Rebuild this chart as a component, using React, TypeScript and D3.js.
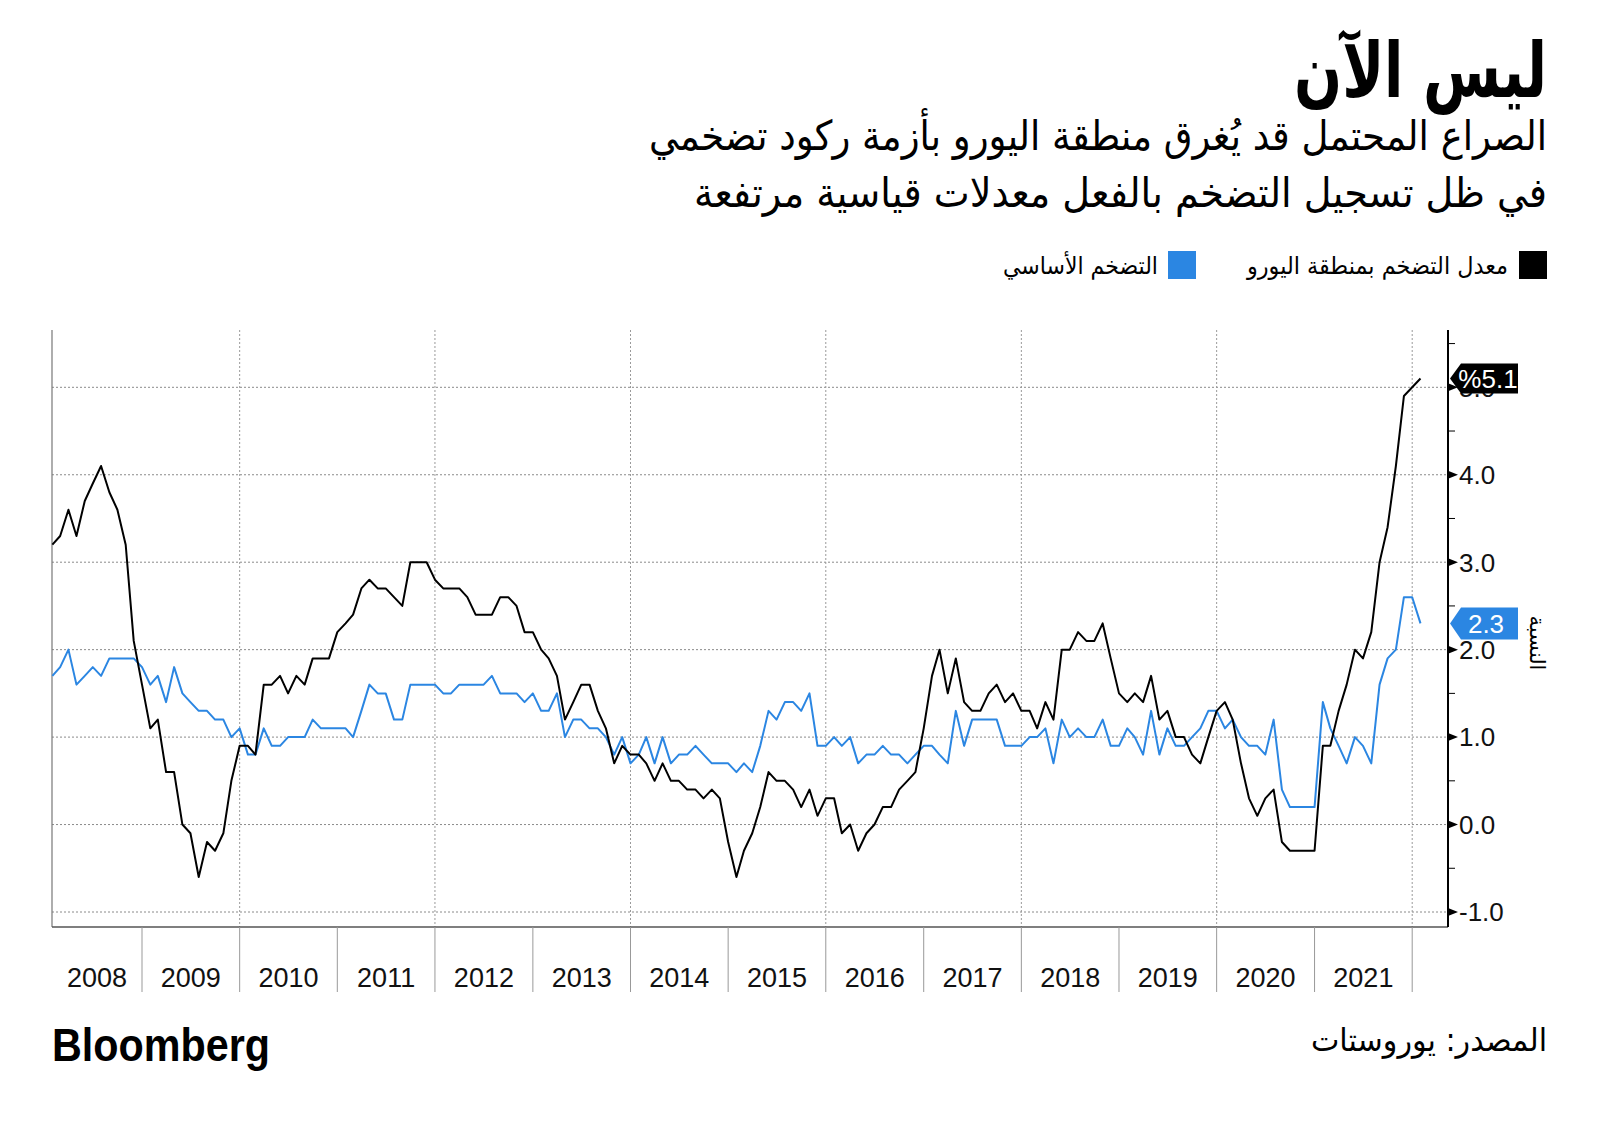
import React from "react";
import * as d3 from "d3";

// ---------- DATA ----------
const startYear = 2008;
// Euro-area headline inflation, monthly Jan 2008 .. Jan 2022 (%)
const headline: number[] = [
  3.2, 3.3, 3.6, 3.3, 3.7, 3.9, 4.1, 3.8, 3.6, 3.2, 2.1, 1.6,
  1.1, 1.2, 0.6, 0.6, 0.0, -0.1, -0.6, -0.2, -0.3, -0.1, 0.5, 0.9,
  0.9, 0.8, 1.6, 1.6, 1.7, 1.5, 1.7, 1.6, 1.9, 1.9, 1.9, 2.2,
  2.3, 2.4, 2.7, 2.8, 2.7, 2.7, 2.6, 2.5, 3.0, 3.0, 3.0, 2.8,
  2.7, 2.7, 2.7, 2.6, 2.4, 2.4, 2.4, 2.6, 2.6, 2.5, 2.2, 2.2,
  2.0, 1.9, 1.7, 1.2, 1.4, 1.6, 1.6, 1.3, 1.1, 0.7, 0.9, 0.8,
  0.8, 0.7, 0.5, 0.7, 0.5, 0.5, 0.4, 0.4, 0.3, 0.4, 0.3, -0.2,
  -0.6, -0.3, -0.1, 0.2, 0.6, 0.5, 0.5, 0.4, 0.2, 0.4, 0.1, 0.3,
  0.3, -0.1, 0.0, -0.3, -0.1, 0.0, 0.2, 0.2, 0.4, 0.5, 0.6, 1.1,
  1.7, 2.0, 1.5, 1.9, 1.4, 1.3, 1.3, 1.5, 1.6, 1.4, 1.5, 1.3,
  1.3, 1.1, 1.4, 1.2, 2.0, 2.0, 2.2, 2.1, 2.1, 2.3, 1.9, 1.5,
  1.4, 1.5, 1.4, 1.7, 1.2, 1.3, 1.0, 1.0, 0.8, 0.7, 1.0, 1.3,
  1.4, 1.2, 0.7, 0.3, 0.1, 0.3, 0.4, -0.2, -0.3, -0.3, -0.3, -0.3,
  0.9, 0.9, 1.3, 1.6, 2.0, 1.9, 2.2, 3.0, 3.4, 4.1, 4.9, 5.0,
  5.1,
];
// Core inflation, monthly Jan 2008 .. Jan 2022 (%)
const core: number[] = [
  1.7, 1.8, 2.0, 1.6, 1.7, 1.8, 1.7, 1.9, 1.9, 1.9, 1.9, 1.8,
  1.6, 1.7, 1.4, 1.8, 1.5, 1.4, 1.3, 1.3, 1.2, 1.2, 1.0, 1.1,
  0.8, 0.8, 1.1, 0.9, 0.9, 1.0, 1.0, 1.0, 1.2, 1.1, 1.1, 1.1,
  1.1, 1.0, 1.3, 1.6, 1.5, 1.5, 1.2, 1.2, 1.6, 1.6, 1.6, 1.6,
  1.5, 1.5, 1.6, 1.6, 1.6, 1.6, 1.7, 1.5, 1.5, 1.5, 1.4, 1.5,
  1.3, 1.3, 1.5, 1.0, 1.2, 1.2, 1.1, 1.1, 1.0, 0.8, 1.0, 0.7,
  0.8, 1.0, 0.7, 1.0, 0.7, 0.8, 0.8, 0.9, 0.8, 0.7, 0.7, 0.7,
  0.6, 0.7, 0.6, 0.9, 1.3, 1.2, 1.4, 1.4, 1.3, 1.5, 0.9, 0.9,
  1.0, 0.9, 1.0, 0.7, 0.8, 0.8, 0.9, 0.8, 0.8, 0.7, 0.8, 0.9,
  0.9, 0.8, 0.7, 1.3, 0.9, 1.2, 1.2, 1.2, 1.2, 0.9, 0.9, 0.9,
  1.0, 1.0, 1.1, 0.7, 1.2, 1.0, 1.1, 1.0, 1.0, 1.2, 0.9, 0.9,
  1.1, 1.0, 0.8, 1.3, 0.8, 1.1, 0.9, 0.9, 1.0, 1.1, 1.3, 1.3,
  1.1, 1.2, 1.0, 0.9, 0.9, 0.8, 1.2, 0.4, 0.2, 0.2, 0.2, 0.2,
  1.4, 1.1, 0.9, 0.7, 1.0, 0.9, 0.7, 1.6, 1.9, 2.0, 2.6, 2.6,
  2.3,
];
const yearLabels: number[] = [2008, 2009, 2010, 2011, 2012, 2013, 2014, 2015, 2016, 2017, 2018, 2019, 2020, 2021];
const yTicks: number[] = [-1, 0, 1, 2, 3, 4, 5];
const gridYears: number[] = [2010, 2012, 2014, 2016, 2018, 2020, 2022];

const title = "ليس الآن";
const subtitle1 = "الصراع المحتمل قد يُغرق منطقة اليورو بأزمة ركود تضخمي";
const subtitle2 = "في ظل تسجيل التضخم بالفعل معدلات قياسية مرتفعة";
const legendHeadline = "معدل التضخم بمنطقة اليورو";
const legendCore = "التضخم الأساسي";
const axisTitle = "النسبة";
const sourceText = "المصدر: يوروستات";

const BLUE = "#2b86e2";
const AR = "'DejaVu Sans', sans-serif";
const NUM = "'Liberation Sans', Arial, sans-serif";

export default function App() {
  const W = 1600, H = 1125;
  const plotL = 52, plotR = 1448, plotT = 330, plotB = 927;

  const monthDate = (i: number) => new Date(startYear, i + 1, 1); // plotted at month end
  const x = d3.scaleTime()
    .domain([new Date(2008, 0, 1), new Date(2022, 0, 1)])
    .range([44.1, 1412.2]);
  const y = d3.scaleLinear().domain([-1, 5]).range([912, 387.3]);

  const line = d3.line<number>()
    .x((_, i) => x(monthDate(i)))
    .y((d) => y(d));

  const minorTicks = d3.range(-1, 6, 0.5).filter((v) => Math.abs(v % 1) > 0.01);
  const lastH = headline[headline.length - 1];
  const lastC = core[core.length - 1];

  const tag = (v: number, h: number) => {
    const yy = y(v);
    return `M${plotR + 2},${yy} L${plotR + 13},${yy - h / 2} L${plotR + 70},${yy - h / 2} L${plotR + 70},${yy + h / 2} L${plotR + 13},${yy + h / 2} Z`;
  };

  return (
    <svg width={W} height={H} style={{ position: "absolute", left: 0, top: 0, background: "#fff" }}>
      <rect width={W} height={H} fill="#fff" />
      {/* Titles */}
      <text x={1547} y={97} textAnchor="end" fontFamily={AR} fontWeight="bold" fontSize={76} textLength={253} lengthAdjust="spacingAndGlyphs">{title}</text>
      <text x={1547} y={150} textAnchor="end" fontFamily={AR} fontSize={41} textLength={898} lengthAdjust="spacingAndGlyphs">{subtitle1}</text>
      <text x={1547} y={207} textAnchor="end" fontFamily={AR} fontSize={41} textLength={853} lengthAdjust="spacingAndGlyphs">{subtitle2}</text>

      {/* Legend */}
      <rect x={1519} y={251} width={28} height={28} fill="#000" />
      <text x={1508} y={274} textAnchor="end" fontFamily={AR} fontSize={24} textLength={261} lengthAdjust="spacingAndGlyphs">{legendHeadline}</text>
      <rect x={1168} y={251} width={28} height={28} fill={BLUE} />
      <text x={1158} y={274} textAnchor="end" fontFamily={AR} fontSize={24} textLength={155} lengthAdjust="spacingAndGlyphs">{legendCore}</text>

      {/* Gridlines */}
      {yTicks.map((v) => (
        <line key={"gy" + v} x1={plotL} x2={plotR} y1={y(v)} y2={y(v)} stroke="#8a8a8a" strokeWidth={1} strokeDasharray="2,2" />
      ))}
      {gridYears.map((yr) => (
        <line key={"gx" + yr} x1={x(new Date(yr, 0, 1))} x2={x(new Date(yr, 0, 1))} y1={plotT} y2={plotB} stroke="#9a9a9a" strokeWidth={1} strokeDasharray="2,2" />
      ))}

      {/* Frame */}
      <line x1={plotL} x2={plotL} y1={plotT} y2={plotB} stroke="#777" strokeWidth={1.2} />
      <line x1={plotL} x2={plotR} y1={plotB} y2={plotB} stroke="#555" strokeWidth={1.5} />

      {/* Year separators and labels */}
      {d3.range(2009, 2023).map((yr) => (
        <line key={"ys" + yr} x1={x(new Date(yr, 0, 1))} x2={x(new Date(yr, 0, 1))} y1={plotB} y2={992} stroke="#999" strokeWidth={1} />
      ))}
      {yearLabels.map((yr) => {
        const a = Math.max(plotL, x(new Date(yr, 0, 1)));
        const b = x(new Date(yr + 1, 0, 1));
        return (
          <text key={"yl" + yr} x={(a + b) / 2} y={987} textAnchor="middle" fontFamily={NUM} fontSize={27} fill="#111">{yr}</text>
        );
      })}

      {/* Series */}
      <path d={line(core) || ""} fill="none" stroke={BLUE} strokeWidth={2} strokeLinejoin="round" />
      <path d={line(headline) || ""} fill="none" stroke="#000" strokeWidth={2} strokeLinejoin="round" />

      {/* Right axis */}
      <line x1={plotR} x2={plotR} y1={plotT} y2={plotB} stroke="#000" strokeWidth={2} />
      {minorTicks.map((v) => (
        <line key={"mt" + v} x1={plotR} x2={plotR + 7} y1={y(v)} y2={y(v)} stroke="#000" strokeWidth={1} />
      ))}
      {yTicks.map((v) => (
        <g key={"yt" + v}>
          <path d={`M${plotR},${y(v) - 4} L${plotR + 10},${y(v)} L${plotR},${y(v) + 4} Z`} fill="#000" />
          <text x={plotR + 11} y={y(v)} dy="0.36em" fontFamily={NUM} fontSize={26} fill="#111">{d3.format(".1f")(v).replace("−", "-")}</text>
        </g>
      ))}

      {/* Last-value tags */}
      <path d={tag(lastH, 30)} fill="#000" />
      <text x={plotR + 40} y={y(lastH)} dy="0.36em" textAnchor="middle" fontFamily={NUM} fontSize={26} fill="#fff">{"%" + d3.format(".1f")(lastH)}</text>
      <path d={tag(lastC, 32)} fill={BLUE} />
      <text x={plotR + 38} y={y(lastC)} dy="0.36em" textAnchor="middle" fontFamily={NUM} fontSize={26} fill="#fff">{d3.format(".1f")(lastC)}</text>

      {/* Axis title */}
      <text transform={`translate(1530, 643) rotate(90)`} textAnchor="middle" fontFamily={AR} fontSize={21}>{axisTitle}</text>

      {/* Footer */}
      <text x={52} y={1061} fontFamily={NUM} fontWeight="bold" fontSize={47} textLength={218} lengthAdjust="spacingAndGlyphs" fill="#000">Bloomberg</text>
      <text x={1547} y={1051} textAnchor="end" fontFamily={AR} fontSize={32} textLength={236} lengthAdjust="spacingAndGlyphs">{sourceText}</text>
    </svg>
  );
}
